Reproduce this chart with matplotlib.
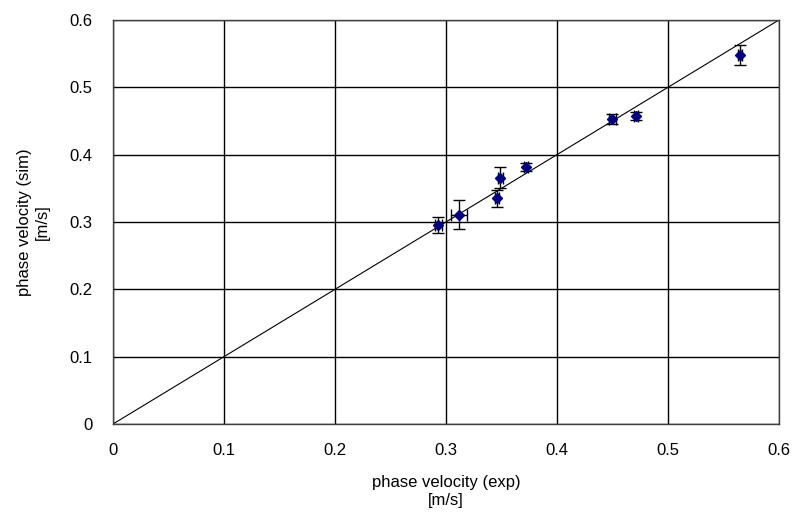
import matplotlib
matplotlib.use("Agg")
import matplotlib.pyplot as plt

plt.rcParams['font.family'] = ['Liberation Sans', 'DejaVu Sans']

x_exp = [0.293, 0.312, 0.346, 0.349, 0.372, 0.450, 0.471, 0.565]
y_sim = [0.296, 0.311, 0.335, 0.366, 0.382, 0.453, 0.458, 0.548]
x_err = [0.003, 0.007, 0.002, 0.002, 0.002, 0.003, 0.002, 0.002]
y_err = [0.012, 0.022, 0.013, 0.016, 0.006, 0.008, 0.006, 0.015]
ticks = [0, 0.1, 0.2, 0.3, 0.4, 0.5, 0.6]
tick_labels = ['0', '0.1', '0.2', '0.3', '0.4', '0.5', '0.6']

fig = plt.figure(figsize=(7.94, 5.22), dpi=100)
ax = fig.add_axes([0.1423, 0.1877, 0.8387, 0.774])

ax.plot([0, 0.6], [0, 0.6], color='black', lw=0.8, zorder=2)
ax.errorbar(x_exp, y_sim, xerr=x_err, yerr=y_err, fmt='D', color='#000080',
            markersize=5, ecolor='black', elinewidth=1, capsize=4, capthick=1, zorder=3)

ax.set_xlim(0, 0.6)
ax.set_ylim(0, 0.6)
ax.set_xticks(ticks)
ax.set_xticklabels(tick_labels)
ax.set_yticks(ticks)
ax.set_yticklabels(tick_labels)
ax.tick_params(length=0, labelsize=12)
ax.tick_params(axis='x', pad=14)
ax.tick_params(axis='y', pad=15)
ax.grid(True, color='black', lw=1)
ax.set_axisbelow(True)
for s in ax.spines.values():
    s.set_color('#404040')
    s.set_linewidth(1)

ax.set_xlabel('phase velocity (exp)\n[m/s]', fontsize=12, labelpad=12)
ax.set_ylabel('phase velocity (sim)\n[m/s]', fontsize=12, labelpad=14)

fig.savefig('out.png', dpi=100)
